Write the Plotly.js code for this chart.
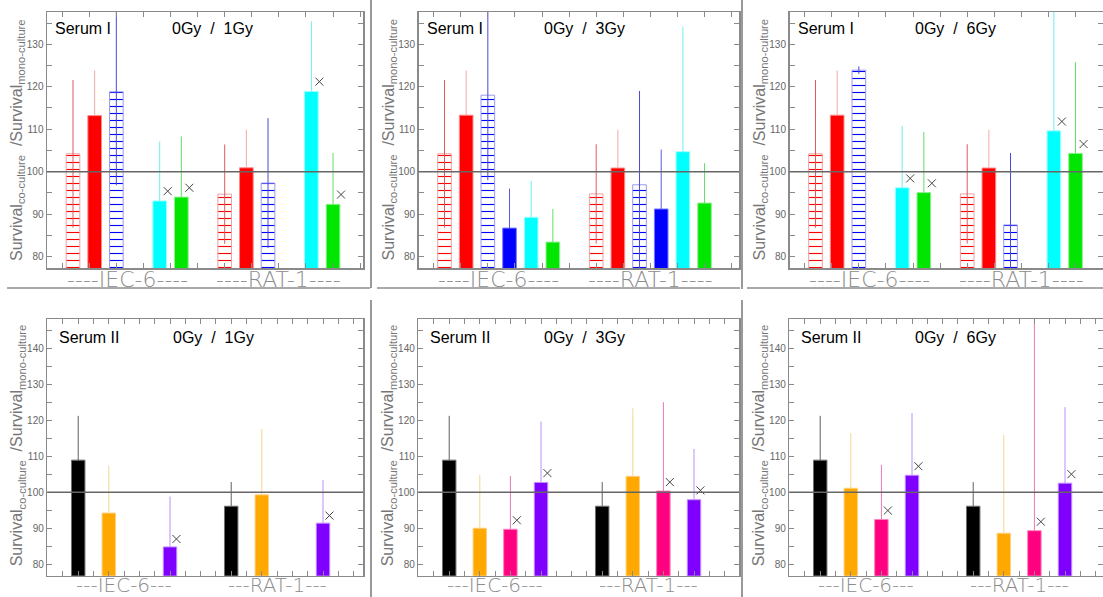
<!DOCTYPE html>
<html><head><meta charset="utf-8">
<script src="https://cdn.plot.ly/plotly-3.0.1.min.js"></script>
<style>html,body{margin:0;padding:0;background:#fff}#chart{width:1103px;height:597px}</style>
</head><body><div id="chart"></div>
<script>
// ---------------- DATA ----------------
const groupLabelsI  = ['----IEC-6----', '----RAT-1----'];
const groupLabelsII = ['---IEC-6---', '---RAT-1---'];
const doseLabels = ['0Gy  /  1Gy', '0Gy  /  3Gy', '0Gy  /  6Gy'];
const serumLabels = ['Serum I', 'Serum II'];
const yTitle = 'Survival<sub>co-culture</sub>  /Survival<sub>mono-culture</sub>';

// Serum I: 6 series per cell line [IEC-6, RAT-1]
// order: red hatched, red, blue hatched, blue, cyan, green
const s1d1_val  = [[104.2, 94.7], [113.2, 100.9], [118.8, 97.3], [null, null], [93.1, 118.9], [94.0, 92.3]];
const s1d1_err  = [[17.4, 11.7], [10.6, 9.0], [22.0, 15.3], [null, null], [14.0, 16.5], [14.3, 12.1]];
const s1d1_mark = [[null, null], [null, null], [null, null], [null, null], [95.4, 121.2], [96.2, 94.6]];

const s1d3_val  = [[104.2, 94.75], [113.3, 100.85], [118.0, 96.9], [86.7, 91.2], [89.25, 104.7], [83.4, 92.6]];
const s1d3_err  = [[17.4, 11.7], [10.5, 9.0], [20.0, 22.1], [9.3, 14.0], [8.6, 29.5], [7.8, 9.4]];
const s1d3_mark = [[null, null], [null, null], [null, null], [null, null], [null, null], [null, null]];

const s1d6_val  = [[104.2, 94.75], [113.3, 100.85], [123.9, 87.45], [null, null], [96.2, 109.6], [95.06, 104.3]];
const s1d6_err  = [[17.4, 11.7], [10.5, 9.0], [0.9, 16.95], [null, null], [14.6, 32.0], [14.3, 21.5]];
const s1d6_mark = [[null, null], [null, null], [null, null], [null, null], [98.4, 111.8], [97.25, 106.5]];

// Serum II: 4 series per cell line: black, orange, pink, purple
const s2d1_val  = [[108.9, 96.1], [94.2, 99.25], [null, null], [84.8, 91.4]];
const s2d1_err  = [[12.3, 6.7], [13.2, 18.35], [null, null], [14.0, 12.0]];
const s2d1_mark = [[null, null], [null, null], [null, null], [87.0, 93.5]];

const s2d3_val  = [[108.9, 96.1], [90.0, 104.4], [89.7, 100.3], [102.7, 97.9]];
const s2d3_err  = [[12.3, 6.7], [14.8, 18.9], [14.8, 24.7], [16.9, 14.1]];
const s2d3_mark = [[null, null], [null, null], [92.2, 102.8], [105.3, 100.5]];

const s2d6_val  = [[108.9, 96.1], [101.1, 88.6], [92.4, 89.3], [104.7, 102.5]];
const s2d6_err  = [[12.3, 6.7], [15.3, 27.3], [15.2, 60.0], [17.3, 21.1]];
const s2d6_mark = [[null, null], [null, null], [94.9, 91.8], [107.2, 105.0]];

const yTickValsI  = [80, 90, 100, 110, 120, 130];
const yTickTextI  = ['80', '90', '100', '110', '120', '130'];
const yTickValsII = [80, 90, 100, 110, 120, 130, 140];
const yTickTextII = ['80', '90', '100', '110', '120', '130', '140'];
const refLine = 100;

// ---------------- STYLE ----------------
const W = 1103, H = 597;
const px = x => x / W, py = y => 1 - y / H;
const topColors  = ['#ff0000', '#ff0000', '#0000ff', '#0000ff', '#00ffff', '#00e600'];
const topLine    = ['#f0a0a0', '#ff8a8a', '#9a9af0', '#7a7aff', '#a0ffff', '#90f090'];
const topErr     = ['#e05a5a', '#f4a8a8', '#4a4ad8', '#5a5ae6', '#70eeee', '#66dd66'];
const topHatch   = [true, false, true, false, false, false];
const botColors  = ['#000000', '#ffa800', '#ff0080', '#8000ff'];
const botLine    = ['#707070', '#ffd080', '#ff80c0', '#c090ff'];
const botErr     = ['#606060', '#f6d690', '#e878b4', '#b890f4'];

const panels = [
  {row: 0, val: s1d1_val, err: s1d1_err, mark: s1d1_mark, dose: doseLabels[0], L: 47,    R: 363},
  {row: 0, val: s1d3_val, err: s1d3_err, mark: s1d3_mark, dose: doseLabels[1], L: 418.5, R: 739},
  {row: 0, val: s1d6_val, err: s1d6_err, mark: s1d6_mark, dose: doseLabels[2], L: 789.5, R: 1102.5},
  {row: 1, val: s2d1_val, err: s2d1_err, mark: s2d1_mark, dose: doseLabels[0], L: 47.3,  R: 363},
  {row: 1, val: s2d3_val, err: s2d3_err, mark: s2d3_mark, dose: doseLabels[1], L: 418.3, R: 739},
  {row: 1, val: s2d6_val, err: s2d6_err, mark: s2d6_mark, dose: doseLabels[2], L: 789.3, R: 1102.7},
];
const rowGeom = [
  {T: 12, B: 268, yr: [77.3, 137.6], slotPx: 21.67, x0: -1.2, groupStart: [0, 7], bw: 0.63, markDx: 0.37,
   tick0: -0.5, dtick: 1.25, tv: yTickValsI, tt: yTickTextI, labels: groupLabelsI, labY: 279.5, labSize: 22, serum: serumLabels[0],
   titleY: 28, yTitleY: 140, colors: topColors, lines: topLine, errs: topErr, hatch: topHatch, gyOff: 123, serOff: 6},
  {T: 319, B: 575.7, yr: [76.8, 148.1], slotPx: 30.6, x0: -1.01, groupStart: [0, 5], bw: 0.44, markDx: 0.21,
   tick0: 0, dtick: 0.5, tv: yTickValsII, tt: yTickTextII, labels: groupLabelsII, labY: 585, labSize: 20, serum: serumLabels[1],
   titleY: 337, yTitleY: 445, colors: botColors, lines: botLine, errs: botErr, hatch: [false, false, false, false], gyOff: 124, serOff: 10},
];

const traces = [], shapes = [], annotations = [];
const layout = {
  width: W, height: H, margin: {l: 0, r: 0, t: 0, b: 0},
  paper_bgcolor: '#fff', plot_bgcolor: '#fff', showlegend: false,
  barmode: 'overlay', font: {family: 'Liberation Sans, Arial, sans-serif'},
};

panels.forEach((p, i) => {
  const g = rowGeom[p.row];
  const n = i + 1, xs = n === 1 ? '' : String(n);
  const xa = 'x' + xs, ya = 'y' + xs;
  const w = p.R - p.L;
  layout['xaxis' + xs] = {
    domain: [px(p.L), px(p.R)], range: [g.x0, g.x0 + w / g.slotPx], anchor: ya,
    showline: true, mirror: 'allticks', linecolor: '#8a8a8a', linewidth: 1.5,
    ticks: 'inside', ticklen: 5, tickcolor: '#8a8a8a', tickwidth: 1,
    tickmode: 'linear', tick0: g.tick0, dtick: g.dtick, showticklabels: false,
    showgrid: false, zeroline: false, fixedrange: true,
  };
  layout['yaxis' + xs] = {
    domain: [py(g.B), py(g.T)], range: g.yr, anchor: xa,
    showline: true, mirror: 'allticks', linecolor: '#8a8a8a', linewidth: 1.5,
    ticks: 'inside', ticklen: 5, tickcolor: '#8a8a8a', tickwidth: 1,
    tickmode: 'array', tickvals: g.tv, ticktext: g.tt,
    minor: {dtick: 5, tick0: 75, ticks: 'inside', ticklen: 5, tickcolor: '#8a8a8a', tickwidth: 1, showgrid: false},
    tickfont: {size: 10, color: '#666', family: 'Liberation Sans Narrow, Liberation Sans, Arial, sans-serif'},
    showgrid: false, zeroline: false, fixedrange: true,
  };
  p.val.forEach((vals, s) => {
    const xpos = g.groupStart.map(st => st + s);
    const hatched = g.hatch[s];
    const marker = {color: hatched ? '#ffffff' : g.colors[s], line: {color: g.lines[s], width: 1}};
    if (hatched) marker.pattern = {shape: '-', fgcolor: g.colors[s], bgcolor: '#ffffff', size: 7, solidity: 0.16, fillmode: 'replace'};
    traces.push({
      type: 'bar', x: xpos, y: vals, width: g.bw, xaxis: xa, yaxis: ya, marker: marker,
      hoverinfo: 'skip',
      error_y: {type: 'data', symmetric: false, array: p.err[s],
        arrayminus: hatched ? p.err[s] : p.err[s].map(() => 0),
        color: g.errs[s], thickness: 1, width: 0},
    });
    traces.push({
      type: 'scatter', mode: 'markers', x: xpos.map(x => x + g.markDx), y: p.mark[s],
      xaxis: xa, yaxis: ya, hoverinfo: 'skip',
      marker: {symbol: 'x-thin-open', size: 8, color: '#444', line: {color: '#444', width: 1}},
    });
  });
  shapes.push({type: 'line', xref: xa + ' domain', yref: ya, x0: 0, x1: 1, y0: refLine, y1: refLine,
    line: {color: '#666', width: 1.5}, layer: 'above'});
  annotations.push({xref: 'paper', yref: 'paper', x: px(p.L + g.serOff), y: py(g.titleY), xanchor: 'left', yanchor: 'middle',
    text: g.serum, showarrow: false, font: {size: 16, color: '#000'}});
  annotations.push({xref: 'paper', yref: 'paper', x: px(p.L + g.gyOff), y: py(g.titleY), xanchor: 'left', yanchor: 'middle',
    text: p.dose.replace(/ /g, '\u00a0'), showarrow: false, font: {size: 16, color: '#000'}});
  g.labels.forEach((lab, k) => {
    const nSer = p.val.length;
    annotations.push({xref: xa, yref: 'paper', x: g.groupStart[k] + (nSer - 1) / 2, y: py(g.labY),
      xanchor: 'center', yanchor: 'middle', text: lab, showarrow: false,
      font: {size: g.labSize, color: '#8c8c8c', family: 'DejaVu Sans, sans-serif', weight: 200}});
  });
  annotations.push({xref: 'paper', yref: 'paper', x: px(p.L - 30), y: py(g.yTitleY), xanchor: 'center', yanchor: 'middle',
    textangle: -90, text: yTitle.replace(/  /g, '\u00a0\u00a0'), showarrow: false, font: {size: 16, color: '#777'}});
});

const frame = [
  [7, 288, 370, 288], [377, 288, 740, 288], [747, 288, 1103, 288],
  [371, 0, 371, 288], [742, 0, 742, 289],
  [371, 300, 371, 597], [742, 300, 742, 597],
];
frame.forEach(f => shapes.push({type: 'line', xref: 'paper', yref: 'paper',
  x0: px(f[0]), y0: py(f[1]), x1: px(f[2]), y1: py(f[3]), line: {color: '#555', width: 1.2}}));

layout.shapes = shapes;
layout.annotations = annotations;
Plotly.newPlot('chart', traces, layout, {staticPlot: true, displayModeBar: false});
</script></body></html>
